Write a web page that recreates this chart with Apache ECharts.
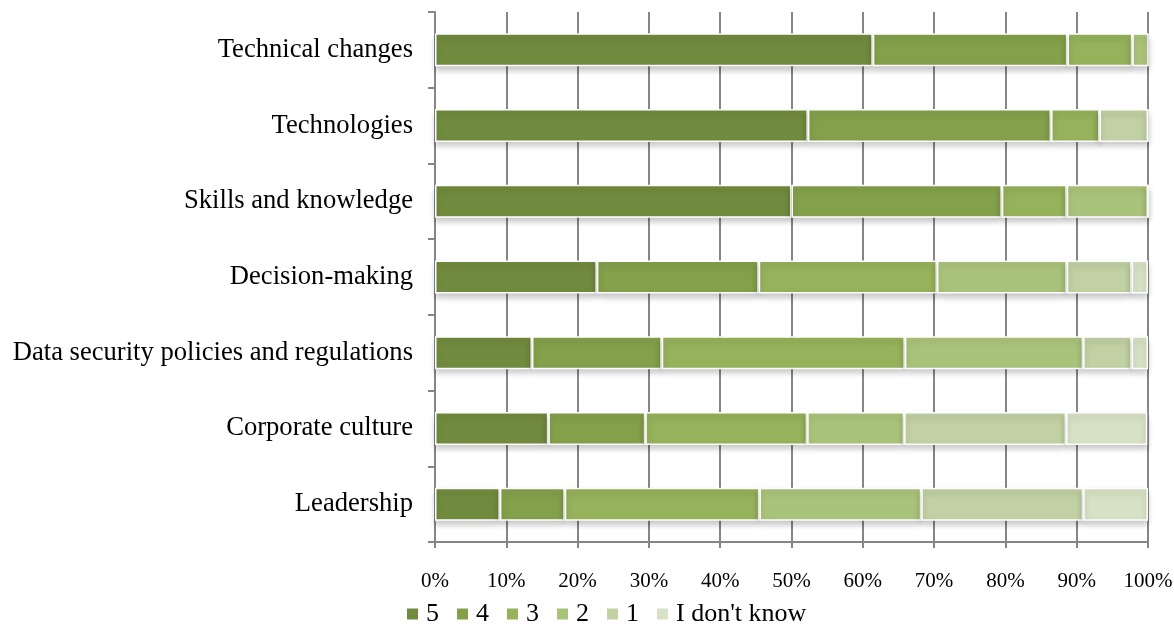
<!DOCTYPE html>
<html>
<head>
<meta charset="utf-8">
<script src="https://cdn.jsdelivr.net/npm/echarts@6/dist/echarts.min.js"></script>
<style>
  html, body { margin: 0; padding: 0; background: #fff; }
  #chart { width: 1174px; height: 628px; }
</style>
</head>
<body>
<div id="chart"></div>
<script>
// categories, bottom to top
var categories = ['Leadership', 'Corporate culture', 'Data security policies and regulations',
  'Decision-making', 'Skills and knowledge', 'Technologies', 'Technical changes']
var seriesNames = ['5', '4', '3', '2', '1', "I don't know"]
// shares in percent, same order as categories
var s5 = [9.1, 15.9, 13.6, 22.7, 50.0, 52.3, 61.4]
var s4 = [9.1, 13.6, 18.2, 22.7, 29.5, 34.1, 27.3]
var s3 = [27.3, 22.7, 34.1, 25.0, 9.1, 6.8, 9.1]
var s2 = [22.7, 13.6, 25.0, 18.2, 11.4, 0, 2.3]
var s1 = [22.7, 22.7, 6.8, 9.1, 0, 6.8, 0]
var sDk = [9.1, 11.4, 2.3, 2.3, 0, 0, 0]
var xTicks = [0, 10, 20, 30, 40, 50, 60, 70, 80, 90, 100]

var colors = ['#718b3e', '#84a04a', '#96b25a', '#aac37a', '#c1d1a3', '#d7e1c5']
var values = [s5, s4, s3, s2, s1, sDk]

var dom = echarts.init(document.getElementById('chart'))
var option = {
  animation: false,
  textStyle: { fontFamily: 'Liberation Serif', color: '#000' },
  grid: { left: 435, right: 26, top: 12, bottom: 86, containLabel: false, outerBoundsMode: 'none' },
  legend: {
    top: 596,
    left: 400,
    itemWidth: 13,
    itemHeight: 13,
    itemGap: 16,
    icon: 'rect',
    textStyle: { fontSize: 26, fontFamily: 'Liberation Serif', color: '#000', padding: [0, 0, 0, 2] },
    data: seriesNames
  },
  xAxis: {
    type: 'value',
    min: xTicks[0],
    max: xTicks[xTicks.length - 1],
    interval: 10,
    axisLine: { show: true, lineStyle: { color: '#868686', width: 2 } },
    axisTick: { show: true, length: 6, lineStyle: { color: '#868686', width: 2 } },
    axisLabel: { formatter: '{value}%', fontSize: 21, color: '#000', margin: 29, fontFamily: 'Liberation Serif' },
    splitLine: { show: true, lineStyle: { color: '#868686', width: 2 } }
  },
  yAxis: {
    type: 'category',
    data: categories,
    axisLine: { show: true, lineStyle: { color: '#868686', width: 2 } },
    axisTick: { show: true, length: 7, lineStyle: { color: '#868686', width: 2 } },
    axisLabel: { fontSize: 26.6, color: '#000', margin: 22, fontFamily: 'Liberation Serif' }
  },
  series: values.map(function (v, i) {
    return {
      name: seriesNames[i],
      type: 'bar',
      stack: 'total',
      barWidth: 33,
      data: v,
      itemStyle: {
        color: colors[i],
        borderColor: '#fff',
        borderWidth: 1.5,
        shadowBlur: 6,
        shadowOffsetY: 4,
        shadowColor: 'rgba(0,0,0,0.22)'
      }
    }
  })
}
dom.setOption(option)
</script>
</body>
</html>
